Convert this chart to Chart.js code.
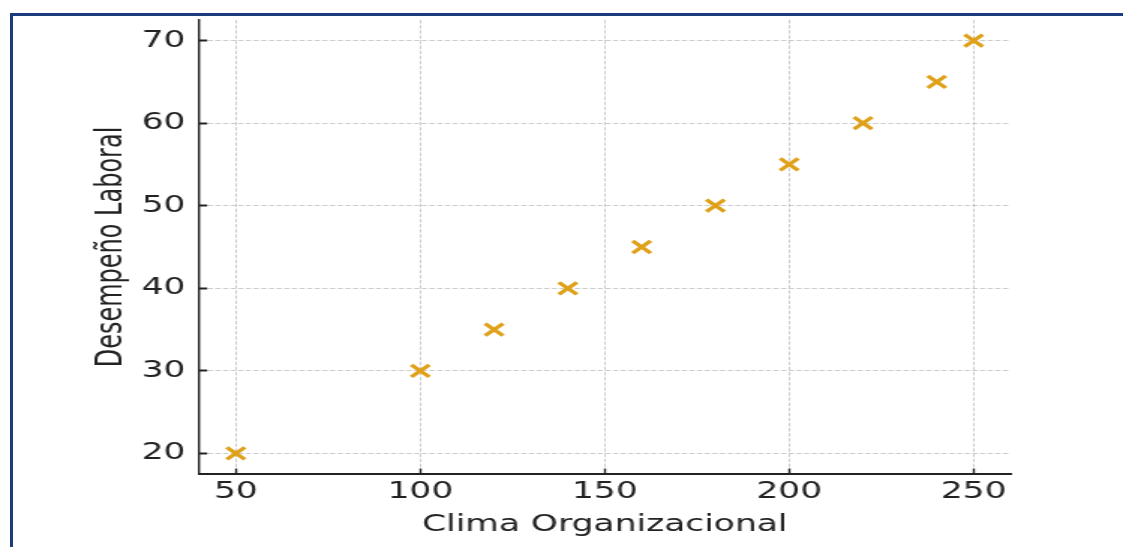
<!DOCTYPE html>
<html>
<head>
<meta charset="utf-8">
<script src="https://cdn.jsdelivr.net/npm/chart.js@4"></script>
<style>
  html, body { margin: 0; padding: 0; background: #fff; overflow: hidden; }
  #frame { position: absolute; left: 10px; top: 13px; right: 0; bottom: 0; border-top: 3px solid #1a3b7c; border-left: 3px solid #1a3b7c; }
</style>
</head>
<body>
<div id="frame"></div>
<!-- the source picture is stretched sideways, so the canvas is drawn narrow and scaled up -->
<canvas id="chart" width="749" height="547" style="position:absolute;left:0;top:0;width:1123px;height:547px"></canvas>
<script>
const clima = [50, 100, 120, 140, 160, 180, 200, 220, 240, 250];
const desempeno = [20, 30, 35, 40, 45, 50, 55, 60, 65, 70];
const xTicks = [50, 100, 150, 200, 250];
const yTicks = [20, 30, 40, 50, 60, 70];

const gridColor = "rgba(176,176,176,0.65)";
const inkColor = "#222222";
const tickFont = { family: "DejaVu Sans", size: 23 };

new Chart(document.getElementById("chart"), {
  type: "scatter",
  data: {
    datasets: [
      {
        data: clima.map((x, i) => ({ x: x, y: desempeno[i] })),
        pointStyle: "crossRot",
        pointRadius: 8.5,
        pointHoverRadius: 8.5,
        borderColor: "#E0A11A",
        backgroundColor: "#E0A11A",
        borderWidth: 3.2,
      },
    ],
  },
  options: {
    responsive: false,
    animation: false,
    layout: { padding: { left: 60, top: 20, right: 75, bottom: 8 } },
    plugins: {
      legend: { display: false },
      tooltip: { enabled: false },
    },
    scales: {
      x: {
        type: "linear",
        min: 40,
        max: 260,
        afterBuildTicks: function (scale) {
          scale.ticks = xTicks.map((v) => ({ value: v }));
        },
        afterFit: function (scale) {
          scale.height = 65;
          scale.paddingLeft = 0;
          scale.paddingRight = 0;
        },
        grid: {
          color: gridColor,
          lineWidth: 1,
          tickLength: -5.5,
          tickColor: inkColor,
          tickWidth: 1.4,
          tickBorderDash: [],
        },
        border: { color: inkColor, width: 2, dash: [3.5, 1.6] },
        ticks: { font: tickFont, color: inkColor, padding: 9.5, maxRotation: 0 },
        title: {
          display: true,
          text: "Clima Organizacional",
          font: { family: "DejaVu Sans", size: 23 },
          color: inkColor,
          padding: 0,
        },
      },
      y: {
        type: "linear",
        min: 17.5,
        max: 72.5,
        afterBuildTicks: function (scale) {
          scale.ticks = yTicks.map((v) => ({ value: v }));
        },
        afterFit: function (scale) {
          scale.width = 72.7;
          scale.paddingTop = 0;
          scale.paddingBottom = 0;
        },
        grid: {
          color: gridColor,
          lineWidth: 1,
          tickLength: -5.5,
          tickColor: inkColor,
          tickWidth: 2,
          tickBorderDash: [],
        },
        border: { color: inkColor, width: 1.4, dash: [3.5, 1.6] },
        ticks: { font: tickFont, color: inkColor, padding: 14.5 },
        title: {
          display: true,
          text: "Desempeño Laboral",
          font: { family: "DejaVu Sans", size: 24 },
          color: inkColor,
          padding: 0,
        },
      },
    },
  },
});
</script>
</body>
</html>
